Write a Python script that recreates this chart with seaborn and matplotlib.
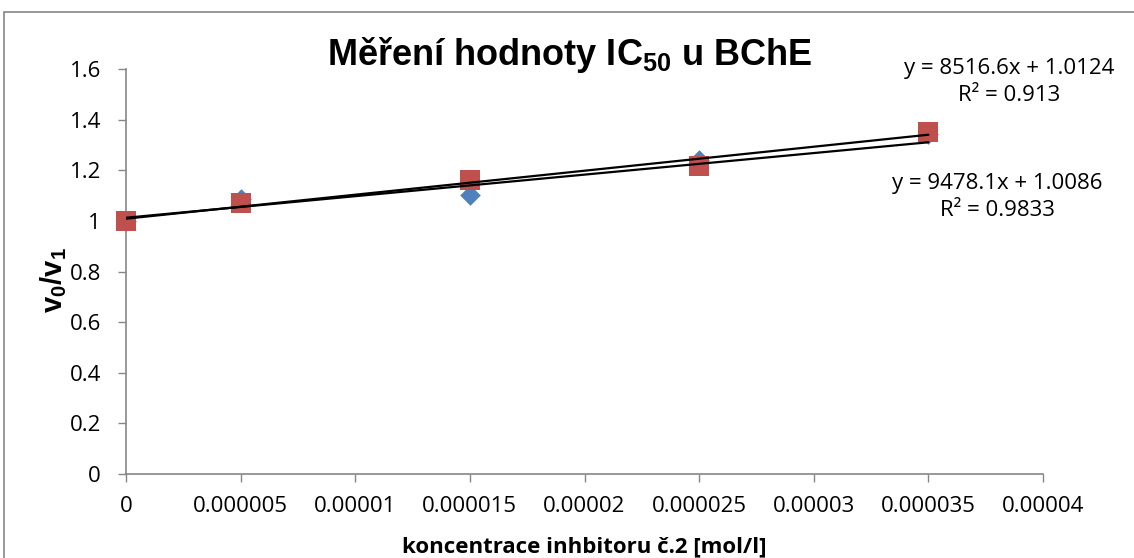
import numpy as np
import pandas as pd
import matplotlib.pyplot as plt
import matplotlib.patches as patches
import seaborn as sns

# data
conc = [0, 0.000005, 0.000015, 0.000025, 0.000035]
blue_vals = [1.0, 1.085, 1.102, 1.24, 1.345]
red_vals = [1.0, 1.071, 1.162, 1.218, 1.352]

# trendline coefficients as printed on the chart
blue_fit = [8516.6, 1.0124]
red_fit = [9478.1, 1.0086]
blue_r2 = "0.913"
red_r2 = "0.9833"

x_ticks = [0, 0.000005, 0.00001, 0.000015, 0.00002, 0.000025, 0.00003, 0.000035, 0.00004]
y_ticks = [0, 0.2, 0.4, 0.6, 0.8, 1, 1.2, 1.4, 1.6]

blue_df = pd.DataFrame({"conc": conc, "ratio": blue_vals})
red_df = pd.DataFrame({"conc": conc, "ratio": red_vals})

sns.set_style("white")
plt.rcParams['font.family'] = ['Open Sans', 'DejaVu Sans']
plt.rcParams['text.color'] = 'black'
plt.rcParams['axes.labelcolor'] = 'black'
plt.rcParams['mathtext.fontset'] = 'custom'
plt.rcParams['mathtext.rm'] = 'Liberation Sans'
plt.rcParams['mathtext.bf'] = 'Liberation Sans:bold'

fig = plt.figure(figsize=(11.34, 5.58), dpi=100)
ax = fig.add_axes([126 / 1134, 1 - 474 / 558, (1043 - 126) / 1134, (474 - 69) / 558])

sns.scatterplot(data=blue_df, x="conc", y="ratio", marker="D", color="#4F81BD",
                s=110, linewidth=0, ax=ax, zorder=3, clip_on=False)
sns.scatterplot(data=red_df, x="conc", y="ratio", marker="s", color="#C0504D",
                s=215, linewidth=0, ax=ax, zorder=3, clip_on=False)

# linear trendlines
xs = np.array([conc[0], conc[-1]])
for m, b in (blue_fit, red_fit):
    ax.plot(xs, m * xs + b, color="black", lw=1.6, zorder=4)

ax.set_xlim(0, 0.00004)
ax.set_ylim(0, 1.6)
ax.set_xticks(x_ticks)
ax.set_xticklabels([np.format_float_positional(v, trim='-') for v in x_ticks])
ax.set_yticks(y_ticks)
ax.set_yticklabels(["%g" % v for v in y_ticks])
ax.tick_params(axis="both", direction="out", length=6, width=1, color="#868686",
               labelsize=16, labelcolor="black", bottom=True, left=True)
ax.tick_params(axis="x", pad=10)
ax.tick_params(axis="y", pad=12)
for side in ("top", "right"):
    ax.spines[side].set_visible(False)
for side in ("left", "bottom"):
    ax.spines[side].set_color("#868686")
    ax.spines[side].set_linewidth(1.2)

ax.set_xlabel("koncentrace inhbitoru č.2 [mol/l]", fontsize=16, fontweight="bold")
ax.set_ylabel(r"$\mathbf{v_0/v_1}$", fontsize=21)
ax.yaxis.set_label_coords(-0.062, 0.48)
ax.xaxis.set_label_coords(0.5, -0.155)

fig.text(570 / 1134, 1 - 55 / 558, r"Měření hodnoty IC$_{\mathbf{50}}$ u BChE", ha="center", va="center",
         fontsize=26, fontweight="bold", family="Liberation Sans")

fig.text(1009 / 1134, 1 - 82 / 558, "y = %.1fx + %.4f\nR² = %s" % (blue_fit[0], blue_fit[1], blue_r2),
         ha="center", va="center", multialignment="center", fontsize=16, linespacing=1.4)
fig.text(997 / 1134, 1 - 197 / 558, "y = %.1fx + %.4f\nR² = %s" % (red_fit[0], red_fit[1], red_r2),
         ha="center", va="center", multialignment="center", fontsize=16, linespacing=1.4)

# outer chart border (cut off at right and bottom, as in the reference)
fig.patches.append(patches.Rectangle((4 / 1134, -0.1), 1.2, 1 - 12 / 558 + 0.1,
                                     transform=fig.transFigure, fill=False,
                                     edgecolor="#868686", lw=1.2))

fig.savefig("out.png", dpi=100)
